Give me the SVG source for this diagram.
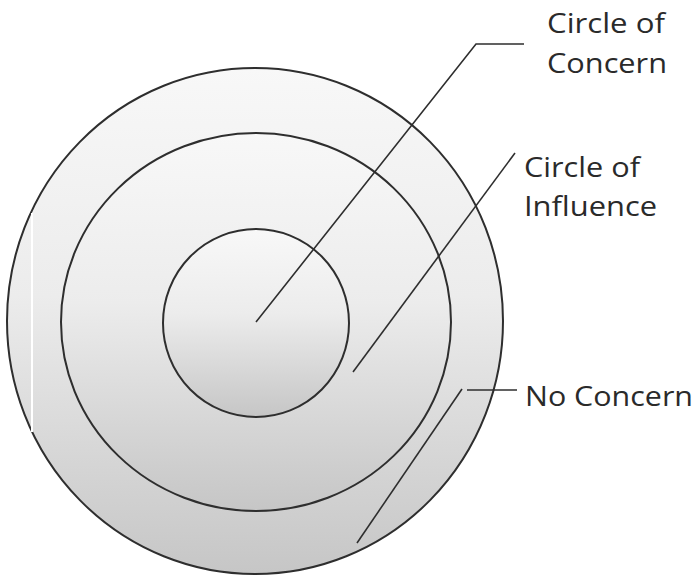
<svg xmlns="http://www.w3.org/2000/svg" width="699" height="577" viewBox="0 0 699 577">
<defs>
<linearGradient id="g" x1="0" y1="0" x2="0" y2="1">
<stop offset="0" stop-color="#f8f8f8"/>
<stop offset="0.45" stop-color="#ececec"/>
<stop offset="1" stop-color="#c6c6c6"/>
</linearGradient>
<style>
.ring{fill:url(#g);stroke:#2e2e2e;stroke-width:2}
.ln{stroke:#2e2e2e;stroke-width:1.6;fill:none}
.t{font-family:"Open Sans","Liberation Sans",sans-serif;font-size:27px;fill:#2a2a2a}
</style>
</defs>
<rect width="699" height="577" fill="#ffffff"/>
<g id="outer"><ellipse class="ring" cx="255" cy="321" rx="248" ry="253"/></g>
<g id="middle"><ellipse class="ring" cx="256" cy="322" rx="195" ry="189"/></g>
<g id="inner"><ellipse class="ring" cx="256" cy="323" rx="93" ry="94"/></g>
<line x1="32" y1="213" x2="32" y2="432" stroke="#ffffff" stroke-width="2"/>
<g id="connectors">
<polyline class="ln" points="256,322 476,44 524,44"/>
<line class="ln" x1="353" y1="372" x2="515" y2="153"/>
<line class="ln" x1="357" y1="543" x2="462" y2="389"/>
<line class="ln" x1="467" y1="390" x2="517" y2="390"/>
</g>
<g id="label-concern">
<text class="t" x="547" y="33" textLength="118" lengthAdjust="spacingAndGlyphs">Circle of</text>
<text class="t" x="547" y="73" textLength="120" lengthAdjust="spacingAndGlyphs">Concern</text>
</g>
<g id="label-influence">
<text class="t" x="524" y="177" textLength="116" lengthAdjust="spacingAndGlyphs">Circle of</text>
<text class="t" x="524" y="216" textLength="133" lengthAdjust="spacingAndGlyphs">Influence</text>
</g>
<g id="label-noconcern">
<text class="t" x="525" y="406" textLength="168" lengthAdjust="spacingAndGlyphs">No Concern</text>
</g>
</svg>
